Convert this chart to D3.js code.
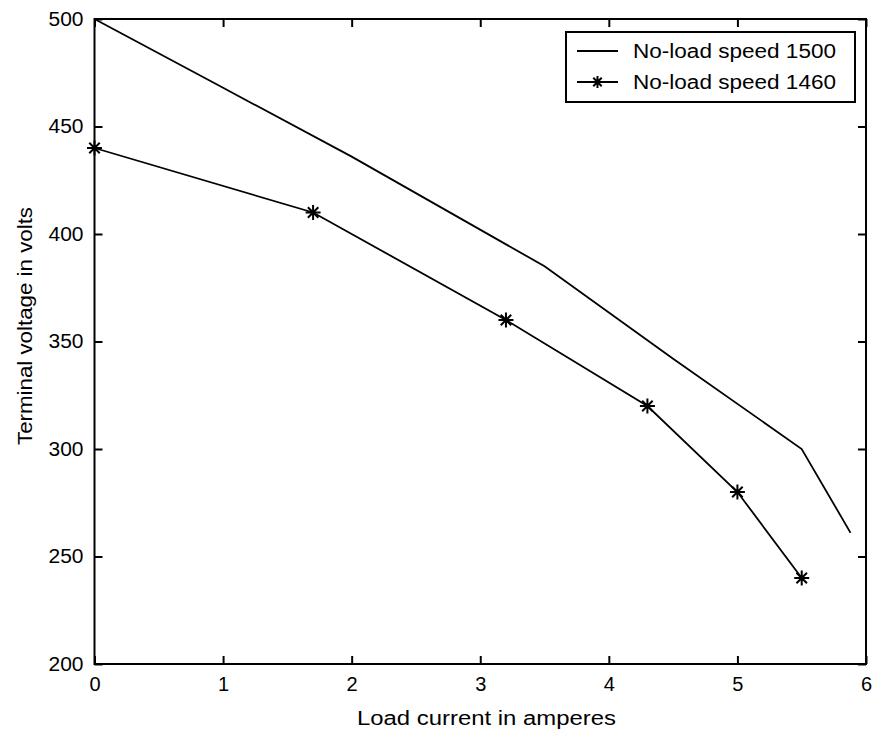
<!DOCTYPE html>
<html><head><meta charset="utf-8">
<script src="https://cdn.jsdelivr.net/npm/d3@7"></script>
<style>body{margin:0;background:#fff}</style>
</head><body>
<svg id="c" width="874" height="735"></svg>
<script>
const xTicks = [0,1,2,3,4,5,6];
const yTicks = [200,250,300,350,400,450,500];
const series1X = [0, 1, 2, 3.5, 4.5, 5.5, 5.88];
const series1Y = [500, 468, 436, 385, 342, 300, 261];
const series2X = [0, 1.7, 3.2, 4.3, 5.0, 5.5];
const series2Y = [440, 410, 360, 320, 280, 240];
const legendLabels = ["No-load speed 1500", "No-load speed 1460"];

const svg = d3.select("#c");
const L = 94.5, R = 866, T = 19, B = 664;
const x = d3.scaleLinear().domain([0,6]).range([L,R]);
const y = d3.scaleLinear().domain([200,500]).range([B,T]);
const font = "'Liberation Sans', Arial, sans-serif";

svg.append("rect").attr("x",L).attr("y",T).attr("width",R-L).attr("height",B-T)
  .attr("fill","none").attr("stroke","#000").attr("stroke-width",2);

const tl = 8;
const axB = svg.append("g").attr("transform",`translate(0,${B})`)
  .call(d3.axisBottom(x).tickValues(xTicks).tickSize(-tl).tickPadding(13).tickFormat(d3.format("d")));
const axT = svg.append("g").attr("transform",`translate(0,${T})`)
  .call(d3.axisTop(x).tickValues(xTicks).tickSize(-tl).tickFormat(""));
const axL = svg.append("g").attr("transform",`translate(${L},0)`)
  .call(d3.axisLeft(y).tickValues(yTicks).tickSize(-tl).tickPadding(11).tickFormat(d3.format("d")));
const axR = svg.append("g").attr("transform",`translate(${R},0)`)
  .call(d3.axisRight(y).tickValues(yTicks).tickSize(-tl).tickFormat(""));
[axB,axT,axL,axR].forEach(a=>{
  a.select(".domain").remove();
  a.selectAll("line").attr("stroke","#000").attr("stroke-width",2);
  a.selectAll("text").attr("fill","#000").style("font-family",font).style("font-size","20px");
});
axL.selectAll("text").attr("textLength",35).attr("lengthAdjust","spacingAndGlyphs");

const line = d3.line().x(d=>x(d[0])).y(d=>y(d[1]));
const d1 = series1X.map((v,i)=>[v,series1Y[i]]);
const d2 = series2X.map((v,i)=>[v,series2Y[i]]);
svg.append("path").attr("d",line(d1)).attr("fill","none").attr("stroke","#000").attr("stroke-width",1.8);
svg.append("path").attr("d",line(d2)).attr("fill","none").attr("stroke","#000").attr("stroke-width",1.8);

function star(g, cx, cy, s){
  const a = s, b = s*0.7;
  const p = `M${cx-a},${cy}L${cx+a},${cy}M${cx},${cy-a}L${cx},${cy+a}M${cx-b},${cy-b}L${cx+b},${cy+b}M${cx-b},${cy+b}L${cx+b},${cy-b}`;
  g.append("path").attr("d",p).attr("stroke","#000").attr("stroke-width",2).attr("fill","none");
}
const mg = svg.append("g");
d2.forEach(d=>star(mg, x(d[0]), y(d[1]), 7.5));

const lg = svg.append("g");
lg.append("rect").attr("x",566).attr("y",32).attr("width",289).attr("height",70)
  .attr("fill","#fff").attr("stroke","#000").attr("stroke-width",2);
[51,82].forEach((yy,i)=>{
  lg.append("line").attr("x1",577).attr("x2",618).attr("y1",yy).attr("y2",yy).attr("stroke","#000").attr("stroke-width",1.8);
  if(i===1) star(lg, 597.5, yy, 6);
  lg.append("text").attr("x",633).attr("y",yy).attr("dy","0.35em").text(legendLabels[i])
    .style("font-family",font).style("font-size","20px").attr("textLength",203).attr("lengthAdjust","spacingAndGlyphs");
});

svg.append("text").attr("x",357).attr("y",725)
  .style("font-family",font).style("font-size","20px").attr("textLength",259).attr("lengthAdjust","spacingAndGlyphs")
  .text("Load current in amperes");
svg.append("text").attr("transform",`translate(32,445) rotate(-90)`)
  .style("font-family",font).style("font-size","20px").attr("textLength",238).attr("lengthAdjust","spacingAndGlyphs")
  .text("Terminal voltage in volts");
</script>
</body></html>
